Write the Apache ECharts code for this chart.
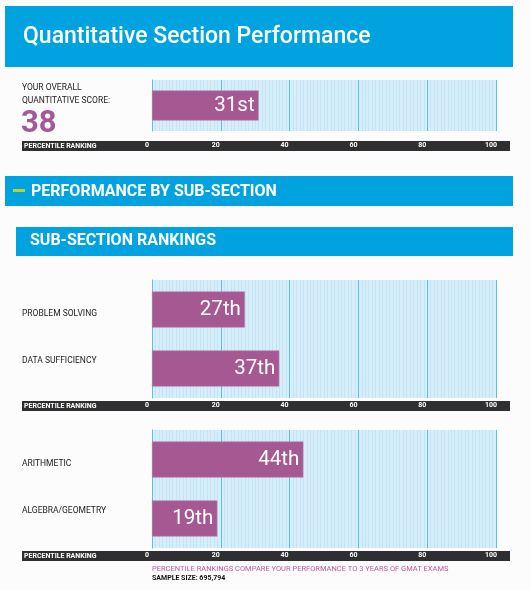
<!DOCTYPE html>
<html>
<head>
<meta charset="utf-8">
<script src="https://cdn.jsdelivr.net/npm/echarts@6/dist/echarts.min.js"></script>
<style>
html,body{margin:0;padding:0;background:#fcfcfc;}
#c{width:531px;height:590px;}
</style>
</head>
<body>
<div id="c"></div>
<script>
// ---- data ----
const titleText = 'Quantitative Section Performance';
const overallCategories = ['QUANTITATIVE'];
const overallValues = [31];
const overallScore = '38';
const section1Categories = ['PROBLEM SOLVING', 'DATA SUFFICIENCY'];
const section1Values = [27, 37];
const section2Categories = ['ARITHMETIC', 'ALGEBRA/GEOMETRY'];
const section2Values = [44, 19];
const axisMin = 0, axisMax = 100, axisStep = 20;
const footnote = 'PERCENTILE RANKINGS COMPARE YOUR PERFORMANCE TO 3 YEARS OF GMAT EXAMS';
const sampleSize = 'SAMPLE SIZE: 695,794';

// ---- styles ----
const BLUE = '#00a3e0';
const BAR = '#a65893';
const PLOT_BG = '#d5eef9';
const GRID = '#5bbde8';
const BAND = '#2f2f31';
const FONT = 'Roboto, "Liberation Sans", sans-serif';

function ordinal(n) {
  const s = ['th', 'st', 'nd', 'rd'], v = n % 100;
  return n + (s[(v - 20) % 10] || s[v] || s[0]);
}

const chart = echarts.init(document.getElementById('c'), null, {renderer: 'canvas'});

const grids = [
  {left: 152, top: 80, width: 344, height: 51},
  {left: 152, top: 280, width: 344, height: 118},
  {left: 152, top: 430, width: 344, height: 118}
];
const labelMargins = [11, 4, 4];

function xAxisFor(i) {
  return {
    gridIndex: i, type: 'value', min: axisMin, max: axisMax, interval: axisStep,
    axisLine: {show: false}, axisTick: {show: false},
    axisLabel: {color: '#fff', fontSize: 7, fontWeight: 'bold', fontFamily: FONT,
      margin: labelMargins[i], padding: [0, 10, 0, 0]},
    splitLine: {show: true, lineStyle: {color: GRID, width: 1}},
    minorTick: {show: false, splitNumber: 20},
    minorSplitLine: {show: true, lineStyle: {color: 'rgba(160,210,236,0.35)', width: 1}}
  };
}

function yAxisFor(i, cats, showLabels) {
  return {
    gridIndex: i, type: 'category', data: cats, inverse: true,
    axisLine: {show: true, lineStyle: {color: GRID}},
    axisTick: {show: false},
    axisLabel: {
      show: showLabels, align: 'left', margin: 130,
      formatter: function (v, idx) { return idx === 0 ? '{a|' + v + '}' : '{b|' + v + '}'; },
      rich: {
        a: {color: '#222', fontSize: 8.5, fontFamily: FONT, padding: [9, 0, 0, 0]},
        b: {color: '#222', fontSize: 8.5, fontFamily: FONT, padding: [0, 0, 15, 0]}
      }
    }
  };
}

function barSeries(i, vals, width) {
  return {
    type: 'bar', xAxisIndex: i, yAxisIndex: i, data: vals, barWidth: width,
    itemStyle: {color: BAR, borderColor: '#b87aa8', borderWidth: 0.6},
    label: {show: true, position: 'insideRight', distance: 4, color: '#fff',
      fontSize: 20.5, fontFamily: FONT, formatter: p => ordinal(p.value)},
    silent: true
  };
}

function band(y) {
  return [
    {type: 'rect', shape: {x: 22, y: y, width: 488, height: 10}, style: {fill: BAND}, z: -1},
    {type: 'text', x: 24, y: y + 5, style: {text: 'PERCENTILE RANKING', fill: '#fff',
      font: 'bold 7px ' + FONT, textVerticalAlign: 'middle'}}
  ];
}

const option = {
  backgroundColor: '#fcfcfc',
  animation: false,
  grid: grids.map(g => Object.assign({backgroundColor: PLOT_BG, show: true, borderWidth: 0}, g)),
  xAxis: [xAxisFor(0), xAxisFor(1), xAxisFor(2)],
  yAxis: [yAxisFor(0, overallCategories, false), yAxisFor(1, section1Categories, true), yAxisFor(2, section2Categories, true)],
  series: [barSeries(0, overallValues, 30), barSeries(1, section1Values, 36), barSeries(2, section2Values, 36)],
  graphic: [
    {type: 'rect', shape: {x: 5, y: 6, width: 508, height: 61}, style: {fill: BLUE}},
    {type: 'text', x: 23, y: 37, style: {text: titleText, fill: '#fff', font: '500 23px ' + FONT, textVerticalAlign: 'middle'}},
    {type: 'text', x: 22, y: 88, style: {text: 'YOUR OVERALL', fill: '#222', font: '8.5px ' + FONT, textVerticalAlign: 'middle'}},
    {type: 'text', x: 22, y: 101, style: {text: 'QUANTITATIVE SCORE:', fill: '#222', font: '8.5px ' + FONT, textVerticalAlign: 'middle'}},
    {type: 'text', x: 21, y: 124, style: {text: overallScore, fill: '#a4579a', font: 'bold 31px ' + FONT, textVerticalAlign: 'middle'}},
    ...band(141),
    {type: 'rect', shape: {x: 5, y: 176, width: 508, height: 30}, style: {fill: BLUE}},
    {type: 'rect', shape: {x: 13, y: 189, width: 12, height: 3}, style: {fill: '#b8d432'}},
    {type: 'text', x: 31, y: 192, style: {text: 'PERFORMANCE BY SUB-SECTION', fill: '#fff', font: 'bold 16px ' + FONT, textVerticalAlign: 'middle'}},
    {type: 'rect', shape: {x: 16, y: 227, width: 497, height: 29}, style: {fill: BLUE}},
    {type: 'text', x: 30, y: 241, style: {text: 'SUB-SECTION RANKINGS', fill: '#fff', font: 'bold 16px ' + FONT, textVerticalAlign: 'middle'}},
    ...band(401),
    ...band(551),
    {type: 'text', x: 152, y: 569, style: {text: footnote, fill: '#c0579e', font: '7.5px ' + FONT, textVerticalAlign: 'middle'}},
    {type: 'text', x: 152, y: 578, style: {text: sampleSize, fill: '#111', font: 'bold 7px ' + FONT, textVerticalAlign: 'middle'}}
  ]
};
chart.setOption(option);
</script>
</body>
</html>
